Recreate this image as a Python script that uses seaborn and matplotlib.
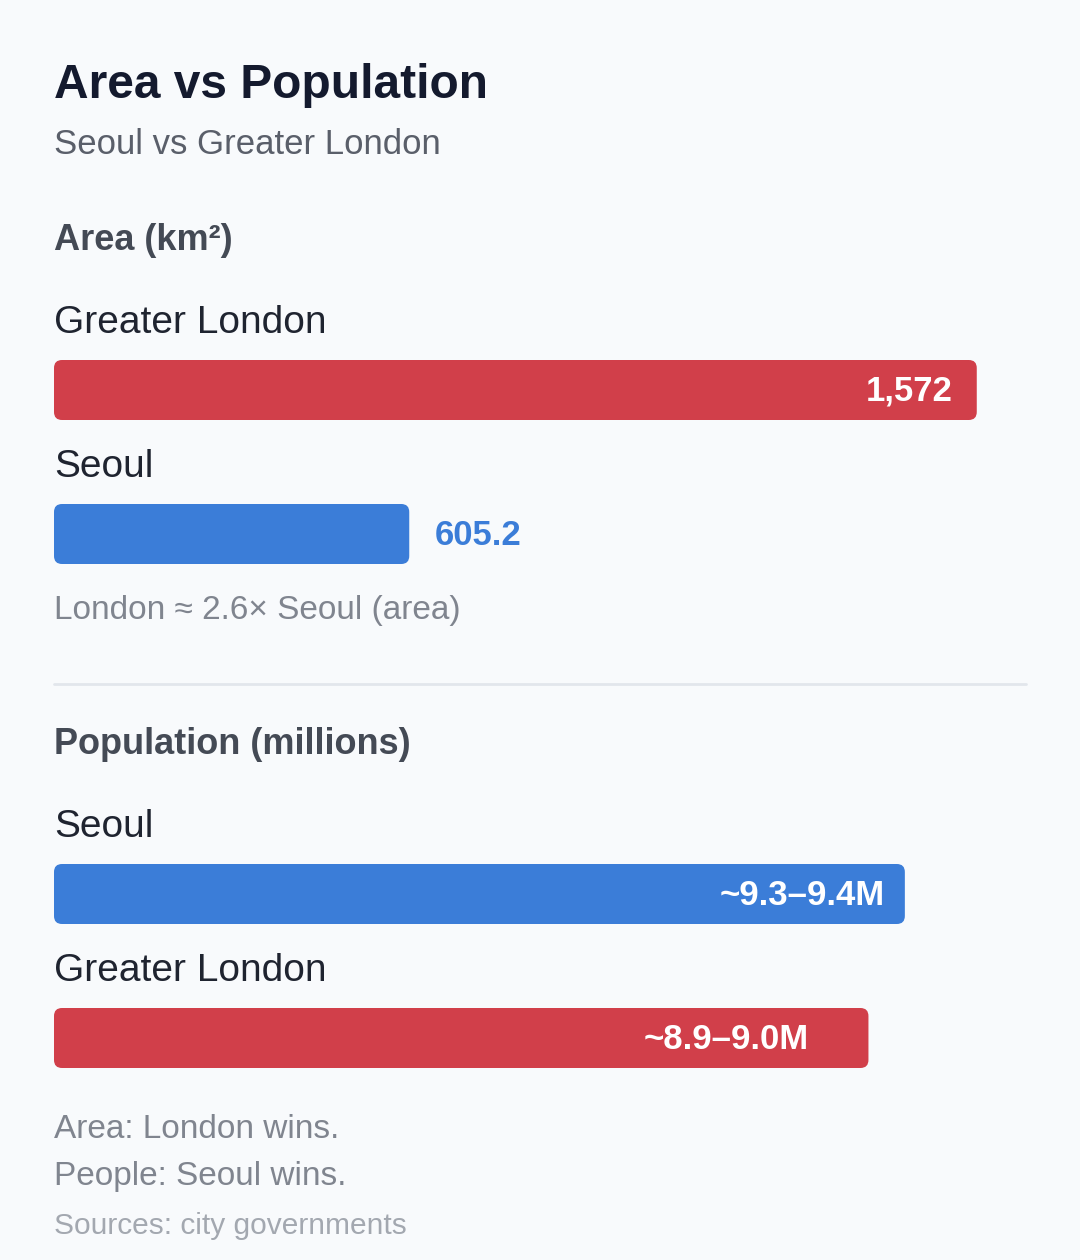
import matplotlib
matplotlib.use("Agg")
import matplotlib.pyplot as plt
import seaborn as sns
import pandas as pd
from matplotlib.patches import FancyBboxPatch

W, H = 1080, 1260
BG = "#f8fafc"
RED = "#d13f4a"
BLUE = "#3b7dd8"

area_cities = ["Greater London", "Seoul"]
area_values = [1572, 605.2]
area_labels = ["1,572", "605.2"]

pop_cities = ["Seoul", "Greater London"]
pop_values = [9.35, 8.95]
pop_labels = ["~9.3–9.4M", "~8.9–9.0M"]

city_colors = {"Greater London": RED, "Seoul": BLUE}

sns.set_theme(style="white")
plt.rcParams["font.family"] = ["Liberation Sans", "DejaVu Sans"]

fig = plt.figure(figsize=(W / 100, H / 100), dpi=100)
fig.patch.set_facecolor(BG)


def fx(x):
    return x / W


def fy(y):
    return 1 - y / H


def section(top, cities, values, labels, xmax, outside_idx=(), insets=(24, 24)):
    ax = fig.add_axes([fx(54), fy(top + 288), fx(972), 288 / H])
    df = pd.DataFrame({"city": cities, "value": values})
    sns.barplot(data=df, x="value", y="city", hue="city", palette=city_colors,
                width=60 / 144, saturation=1, legend=False, ax=ax)
    ax.set_xlim(0, xmax)
    ax.set_ylim(1.5, -0.5)
    ax.axis("off")
    ax.set_facecolor("none")
    # swap plain bars for rounded ones
    xpp = xmax / 972
    ypp = 2 / 288
    for p in list(ax.patches):
        x0, y0, w, h = p.get_x(), p.get_y(), p.get_width(), p.get_height()
        rb = FancyBboxPatch((x0, y0), w, h,
                            boxstyle=f"round,pad=0,rounding_size={8 * xpp}",
                            mutation_aspect=ypp / xpp,
                            facecolor=p.get_facecolor(), edgecolor="none")
        p.remove()
        ax.add_patch(rb)
    for i, (c, v, lab) in enumerate(zip(cities, values, labels)):
        fig.text(fx(54), fy(top + 72 + 144 * i - 67), c, fontsize=28,
                 color="#1f2430", va="center", ha="left")
        if i in outside_idx:
            ax.text(v + 25 * xpp, i + 0.01, lab, ha="left", va="center", fontsize=25,
                    fontweight="bold", color=city_colors[c])
        else:
            ax.text(v - insets[i] * xpp, i + 0.01, lab, ha="right", va="center",
                    fontsize=25, fontweight="bold", color="white")


fig.text(fx(54), fy(86), "Area vs Population", fontsize=34.5, fontweight="bold",
         color="#141a2e", va="center")
fig.text(fx(54), fy(144), "Seoul vs Greater London", fontsize=25,
         color="#5a5f6a", va="center")

fig.text(fx(54), fy(240), "Area (km²)", fontsize=26, fontweight="bold",
         color="#444a55", va="center")
section(318, area_cities, area_values, area_labels, 972 / 0.587, outside_idx=(1,))
fig.text(fx(54), fy(610), "London ≈ 2.6× Seoul (area)", fontsize=24,
         color="#80858f", va="center")

fig.add_artist(plt.Line2D([fx(54), fx(1026)], [fy(684), fy(684)],
                          color="#e2e6ec", lw=2))

fig.text(fx(54), fy(744), "Population (millions)", fontsize=26, fontweight="bold",
         color="#444a55", va="center")
section(822, pop_cities, pop_values, pop_labels, 972 / 91.0, insets=(20, 60))

fig.text(fx(54), fy(1129), "Area: London wins.", fontsize=24, color="#80858f", va="center")
fig.text(fx(54), fy(1177), "People: Seoul wins.", fontsize=24, color="#80858f", va="center")
fig.text(fx(54), fy(1226), "Sources: city governments", fontsize=21.5,
         color="#a3a8b0", va="center")

fig.savefig("out.png", dpi=100, facecolor=BG)
